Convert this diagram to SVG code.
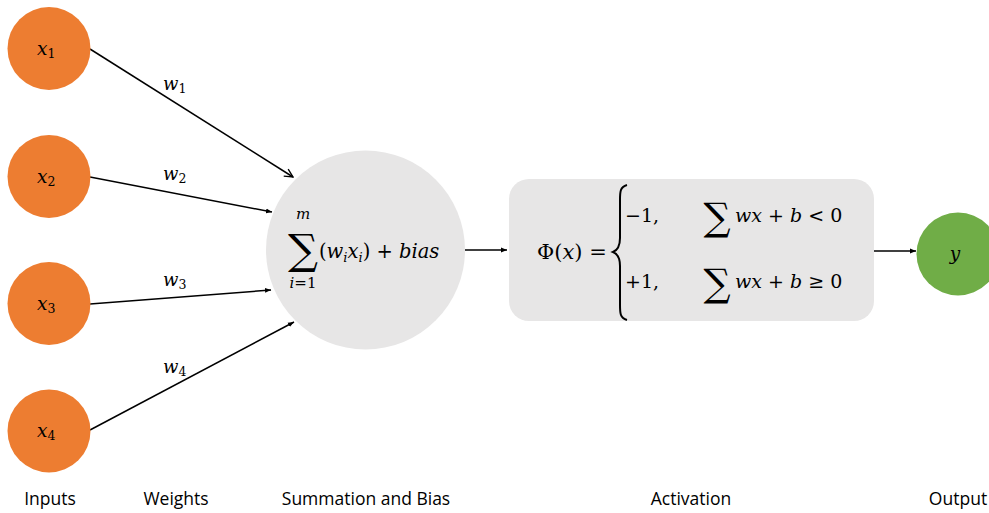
<svg xmlns="http://www.w3.org/2000/svg" width="989" height="513" viewBox="0 0 989 513">
<defs>
<style>
.in{fill:#ED7D31}
.out{fill:#70AD47}
.box{fill:#E7E6E6}
.m{font-family:"DejaVu Serif",serif;font-style:italic;fill:#000}
.r{font-family:"DejaVu Serif",serif;font-style:normal;fill:#000}
.sub{font-size:12.5px;font-style:normal}
.isub{font-size:13px;font-style:italic}
.lbl{font-family:"Open Sans","Liberation Sans",sans-serif;font-size:17.5px;fill:#000;text-anchor:middle}
.edge{stroke:#000;stroke-width:1.5;fill:none}
.sig{font-family:"DejaVu Serif",serif;fill:#000}
</style>
<marker id="ah" viewBox="0 0 10 10" refX="10" refY="5" markerWidth="6" markerHeight="6" orient="auto" markerUnits="userSpaceOnUse">
<path d="M0,1 L10,5 L0,9 Z" fill="#000"/>
</marker>
<marker id="ao" viewBox="0 0 12 12" refX="11" refY="6" markerWidth="10" markerHeight="10" orient="auto" markerUnits="userSpaceOnUse">
<path d="M1,1 L11,6 L1,11" fill="none" stroke="#000" stroke-width="1.6"/>
</marker>
</defs>
<rect width="989" height="513" fill="#fff"/>

<g id="connectors">
<line class="edge" x1="90" y1="49" x2="293" y2="177" marker-end="url(#ao)"/>
<line class="edge" x1="90" y1="177" x2="272" y2="212" marker-end="url(#ah)"/>
<line class="edge" x1="90" y1="304" x2="271" y2="290" marker-end="url(#ah)"/>
<line class="edge" x1="90" y1="430" x2="294" y2="322" marker-end="url(#ah)"/>
<line class="edge" x1="465" y1="250" x2="507" y2="250" marker-end="url(#ah)"/>
<line class="edge" x1="874" y1="251" x2="916" y2="251" marker-end="url(#ah)"/>
<text class="m" x="163" y="90" font-size="18">w<tspan class="sub" dy="3">1</tspan></text>
<text class="m" x="163" y="180" font-size="18">w<tspan class="sub" dy="3">2</tspan></text>
<text class="m" x="163" y="286" font-size="18">w<tspan class="sub" dy="3">3</tspan></text>
<text class="m" x="163" y="373" font-size="18">w<tspan class="sub" dy="3">4</tspan></text>
</g>

<g id="x1"><circle class="in" cx="49" cy="48.5" r="41.5"/><text class="m" x="37" y="55" font-size="18.5">x<tspan class="sub" dy="3">1</tspan></text></g>
<g id="x2"><circle class="in" cx="49" cy="176.5" r="41.5"/><text class="m" x="37" y="183" font-size="18.5">x<tspan class="sub" dy="3">2</tspan></text></g>
<g id="x3"><circle class="in" cx="49" cy="303.5" r="41.5"/><text class="m" x="37" y="310" font-size="18.5">x<tspan class="sub" dy="3">3</tspan></text></g>
<g id="x4"><circle class="in" cx="49" cy="431" r="41.5"/><text class="m" x="37" y="437" font-size="18.5">x<tspan class="sub" dy="3">4</tspan></text></g>

<g id="summation">
<circle class="box" cx="365.5" cy="250" r="99.5"/>
<text class="m" x="303" y="219" font-size="15" text-anchor="middle">m</text>
<text class="sig" x="303" y="264" font-size="42" text-anchor="middle">∑</text>
<text class="m" x="303" y="288" font-size="15" text-anchor="middle">i<tspan class="r">=1</tspan></text>
<text class="m" x="319" y="258" font-size="19.5"><tspan class="r">(</tspan>w<tspan class="isub" dy="4">i</tspan><tspan dy="-4">x</tspan><tspan class="isub" dy="4">i</tspan><tspan class="r" dy="-4">) + </tspan>bias</text>
</g>

<g id="activation">
<rect class="box" x="509" y="179" width="365" height="142" rx="20" ry="20"/>
<text class="m" x="537" y="259" font-size="21"><tspan class="r">Φ(</tspan>x<tspan class="r">) =</tspan></text>
<path d="M627,185 C620,187 620,192 620,200 L620,238 C620,246 618,250 613,252 C618,254 620,258 620,266 L620,305 C620,313 620,318 627,320" fill="none" stroke="#000" stroke-width="2"/>
<text class="r" x="625" y="222" font-size="19">−1,</text>
<text class="r" x="625" y="288" font-size="19">+1,</text>
<text class="sig" x="717" y="230" font-size="38" text-anchor="middle">∑</text>
<text class="sig" x="717" y="296" font-size="38" text-anchor="middle">∑</text>
<text class="m" x="735" y="222" font-size="19">wx<tspan class="r"> + </tspan>b<tspan class="r"> &lt; 0</tspan></text>
<text class="m" x="735" y="288" font-size="19">wx<tspan class="r"> + </tspan>b<tspan class="r"> ≥ 0</tspan></text>
</g>

<g id="output"><circle class="out" cx="958" cy="254" r="41.5"/><text class="m" x="955" y="260" font-size="18.5" text-anchor="middle">y</text></g>

<g id="labels">
<text class="lbl" x="50" y="505">Inputs</text>
<text class="lbl" x="176" y="505">Weights</text>
<text class="lbl" x="366" y="505">Summation and Bias</text>
<text class="lbl" x="691" y="505">Activation</text>
<text class="lbl" x="958" y="505">Output</text>
</g>
</svg>
